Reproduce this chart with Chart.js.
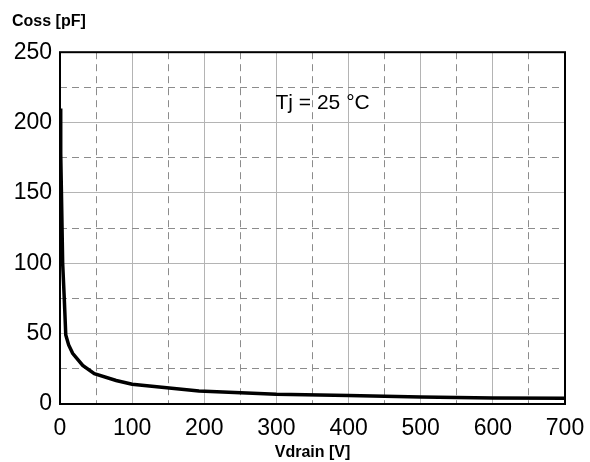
<!DOCTYPE html>
<html>
<head>
<meta charset="utf-8">
<script src="https://cdn.jsdelivr.net/npm/chart.js@4"></script>
<style>
    html, body { margin: 0; padding: 0; background: #fff; }
    #wrap { width: 590px; height: 462px; }
</style>
</head>
<body>
<div id="wrap"><canvas id="myChart"></canvas></div>
<script>
// values
var vdrain = [0, 1, 2, 3.7, 6, 8, 12, 17.5, 31.5, 47.6, 77.8, 100, 137.6, 192.6, 300, 400, 500, 600, 700];
var coss = [210, 178, 150, 100, 74, 49, 42, 36, 27.4, 21.5, 16.7, 14, 12, 9.3, 7, 6, 5, 4.3, 4];
var xTicks = [0, 100, 200, 300, 400, 500, 600, 700];
var yTicks = [0, 50, 100, 150, 200, 250];
var noteText = 'Tj = 25 °C';
var notePos = [364, 214];

var FONT = "'Liberation Sans', Arial, sans-serif";

function gridDash(major) {
    return function (ctx) {
        if (!ctx.tick) return [];
        return major.indexOf(ctx.tick.value) >= 0 ? [] : [7, 5];
    };
}
function gridColor(major) {
    return function (ctx) {
        if (!ctx.tick) return '#000';
        return major.indexOf(ctx.tick.value) >= 0 ? '#b4b4b4' : '#8c8c8c';
    };
}

// frame + note
var framePlugin = {
    id: 'frame',
    afterDraw: function (chart) {
        var c = chart.ctx, a = chart.chartArea;
        c.save();
        c.strokeStyle = '#000';
        c.lineWidth = 2;
        c.strokeRect(a.left, a.top, a.right - a.left, a.bottom - a.top);
        c.fillStyle = '#000';
        c.font = '21px ' + FONT;
        c.textAlign = 'center';
        c.textBaseline = 'middle';
        c.fillText(noteText, chart.scales.x.getPixelForValue(notePos[0]), chart.scales.y.getPixelForValue(notePos[1]));
        c.restore();
    }
};

var ctx = document.getElementById('myChart').getContext('2d');
var myChart = new Chart(ctx, {
    type: 'line',
    data: {
        datasets: [{
            data: vdrain.map(function (v, i) { return { x: v, y: coss[i] }; }),
            borderColor: '#000',
            borderWidth: 3.5,
            pointRadius: 0,
            tension: 0
        }]
    },
    options: {
        animation: false,
        responsive: true,
        maintainAspectRatio: false,
        devicePixelRatio: 1,
        layout: { padding: { left: 12, right: 25, top: 0, bottom: 0 } },
        plugins: {
            legend: { display: false },
            tooltip: { enabled: false },
            title: {
                display: true,
                text: 'Coss [pF]',
                align: 'start',
                color: '#000',
                font: { family: FONT, size: 16, weight: 'bold' },
                padding: { top: 12, bottom: 21 }
            }
        },
        scales: {
            x: {
                type: 'linear',
                min: 0,
                max: 700,
                grid: { color: gridColor(xTicks), lineWidth: 1, drawTicks: false },
                border: { display: false, dash: gridDash(xTicks) },
                afterFit: function (scale) {
                    scale.height = 58;
                    scale.paddingLeft = 0;
                    scale.paddingRight = 0;
                },
                ticks: {
                    stepSize: 50,
                    autoSkip: false,
                    maxRotation: 0,
                    minRotation: 0,
                    padding: 11,
                    color: '#000',
                    font: { family: FONT, size: 23 },
                    callback: function (v) { return xTicks.indexOf(v) >= 0 ? String(v) : ''; }
                },
                title: {
                    display: true,
                    text: 'Vdrain [V]',
                    color: '#000',
                    font: { family: FONT, size: 16, weight: 'bold' },
                    padding: { top: 0, bottom: 0 }
                }
            },
            y: {
                min: 0,
                max: 250,
                grid: { color: gridColor(yTicks), lineWidth: 1, drawTicks: false },
                border: { display: false, dash: gridDash(yTicks) },
                afterFit: function (scale) { scale.width = 48; },
                ticks: {
                    stepSize: 25,
                    autoSkip: false,
                    padding: 8,
                    color: '#000',
                    font: { family: FONT, size: 23 },
                    callback: function (v) { return yTicks.indexOf(v) >= 0 ? String(v) : ''; }
                }
            }
        }
    },
    plugins: [framePlugin]
});
</script>
</body>
</html>
